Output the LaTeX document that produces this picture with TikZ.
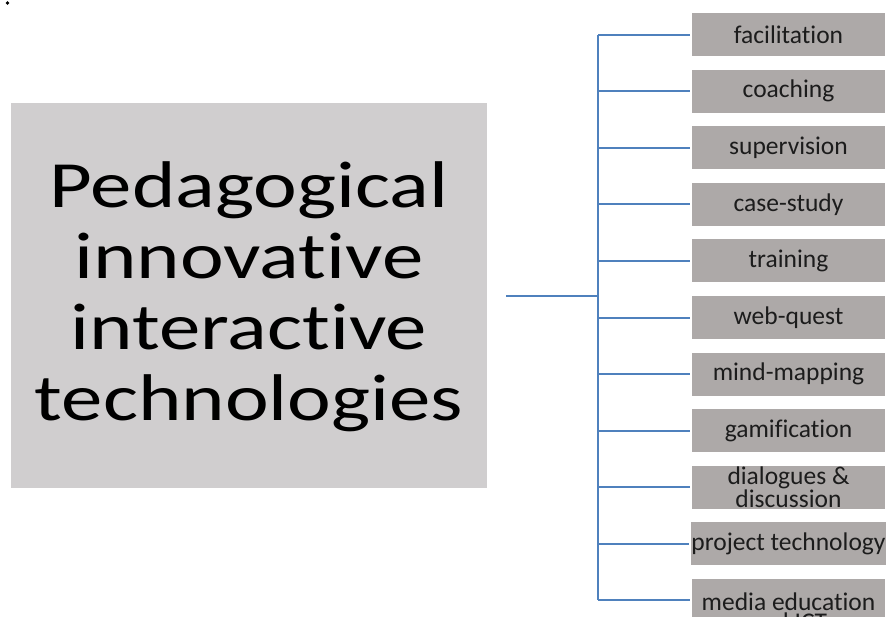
\documentclass[tikz,border=0pt]{standalone}
\usepackage{fontspec}
\setmainfont{Carlito}[RawFeature={-liga}]
\usepackage{graphicx}
\definecolor{maingray}{RGB}{208,206,207}
\definecolor{itemgray}{RGB}{173,169,168}
\definecolor{linkblue}{RGB}{79,129,189}
\definecolor{itemtext}{RGB}{28,28,28}
\begin{document}
\begin{tikzpicture}[x=1pt,y=-1pt,
  link/.style={draw=linkblue, line width=2pt},
  itembox/.style={fill=itemgray, minimum width=193pt, minimum height=43pt,
    inner sep=0pt, align=center, text=itemtext,
    font=\fontsize{25.5}{20}\selectfont},
  mainbox/.style={fill=maingray, minimum width=476pt, minimum height=385pt,
    inner sep=0pt},
  titletext/.style={inner sep=0pt, font=\fontsize{66}{71}\selectfont}]
\useasboundingbox (0,0) rectangle (886,616);
\clip (0,0) rectangle (886,616);

% stray mark in the corner
\fill (7.5,3) circle (1.8pt);

% central topic
\node[mainbox] (main) at (249,295.5) {};
\node[titletext] (title) at (249,300)
  {\scalebox{1.255}[1]{\begin{tabular}{@{}c@{}}Pedagogical\\innovative\\interactive\\technologies\end{tabular}}};

% list of technologies
\foreach \name/\txt [count=\i from 0] in {
    fac/facilitation, coa/coaching, sup/supervision, cas/case-study,
    tra/training, web/web-quest, mind/mind-mapping, gam/gamification,
    dia/{dialogues \&\\discussion}, proj/project technology} {
  \node[itembox] (\name) at (788.5,{34.5+56.6*\i}) {\txt};
}
\node[itembox, minimum height=66pt] (media) at (788.5,612) {media education\\and ICT};

% trunk and branches
\coordinate (start) at (506,296);
\coordinate (ttop) at (598,34.5);
\coordinate (tbot) at (598,600);
\draw[link] (start) -- (start -| ttop);
\draw[link] (ttop) -- (tbot);
\foreach \name in {fac,coa,sup,cas,tra,web,mind,gam,dia,proj} {
  \draw[link, shorten >=2pt] (ttop |- \name.west) -- (\name.west);
}
\draw[link, shorten >=2pt] (tbot) -- (tbot -| media.west);
\end{tikzpicture}
\end{document}
